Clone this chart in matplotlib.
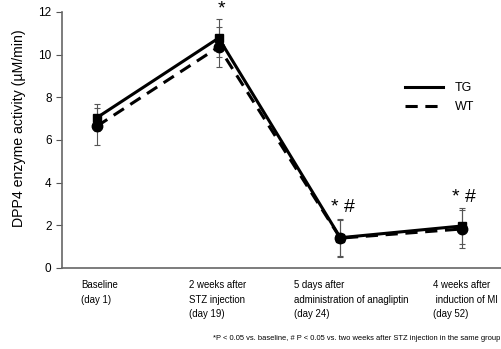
import matplotlib
matplotlib.use('Agg')
import matplotlib.pyplot as plt
import numpy as np

plt.rcParams['font.family'] = ['Liberation Sans', 'DejaVu Sans']

# data
stages = ['Baseline\n(day 1)', '2 weeks after\nSTZ injection\n(day 19)',
          '5 days after\nadministration of anagliptin\n(day 24)',
          '4 weeks after\n induction of MI\n(day 52)']
tg_mean = [7.05, 10.78, 1.42, 1.97]
tg_err = [0.65, 0.88, 0.9, 0.85]
wt_mean = [6.65, 10.36, 1.40, 1.83]
wt_err = [0.87, 0.95, 0.85, 0.9]
marks = ['', '*', '* #', '* #']
footnote = '*P < 0.05 vs. baseline, # P < 0.05 vs. two weeks after STZ injection in the same group'

x = np.arange(1, len(stages) + 1)

fig = plt.figure(figsize=(5.01, 3.49), dpi=100)
ax = fig.add_axes([62/501, 81/349, 1 - 62/501, 256/349])

ax.errorbar(x, tg_mean, yerr=tg_err, fmt='none', ecolor='#555555', elinewidth=0.8,
            capsize=2.5, capthick=0.8, zorder=1)
ax.errorbar(x, wt_mean, yerr=wt_err, fmt='none', ecolor='#555555', elinewidth=0.8,
            capsize=2.5, capthick=0.8, zorder=1)
ax.plot(x, tg_mean, '-', color='black', lw=2.2, marker='s', ms=5.5, label='TG', zorder=3)
ax.plot(x, wt_mean, '--', color='black', lw=2.2, marker='o', ms=7.5, dashes=(4, 2.5),
        label='WT', zorder=2)

for xi, m, top in zip(x, marks, np.maximum(np.add(tg_mean, tg_err), np.add(wt_mean, wt_err))):
    if m:
        ax.text(xi + 0.02, top + 0.1, m, ha='center', va='bottom', fontsize=14)

ax.set_xlim(1 - 35/121.67, 4 + 39/121.67)
ax.set_ylim(0, 12)
ax.set_yticks([0, 2, 4, 6, 8, 10, 12])
ax.set_xticks([])
ax.tick_params(axis='y', labelsize=8.5, length=4, color='#555555', width=0.8)
for s in ['top', 'right']:
    ax.spines[s].set_visible(False)
for s in ['left', 'bottom']:
    ax.spines[s].set_color('#666666')
    ax.spines[s].set_linewidth(1.2)
ax.set_ylabel('DPP4 enzyme activity (µM/min)', fontsize=10.2)
ax.yaxis.set_label_coords(-0.083, 0.548)

offsets = [-0.13, -0.24, -0.38, -0.24]
for xi, lab, off in zip(x, stages, offsets):
    ax.text(xi + off, -0.55, lab, ha='left', va='top', fontsize=6.9, linespacing=1.6)

leg = ax.legend(loc='upper left', bbox_to_anchor=(0.755, 0.77), frameon=False,
                fontsize=9, handlelength=3.1, handletextpad=0.9, labelspacing=0.55)
for h in leg.legend_handles:
    h.set_marker('')

fig.text(500/501, 10/349, footnote, ha='right', va='center', fontsize=5.4)

fig.savefig('out.png', dpi=100)
